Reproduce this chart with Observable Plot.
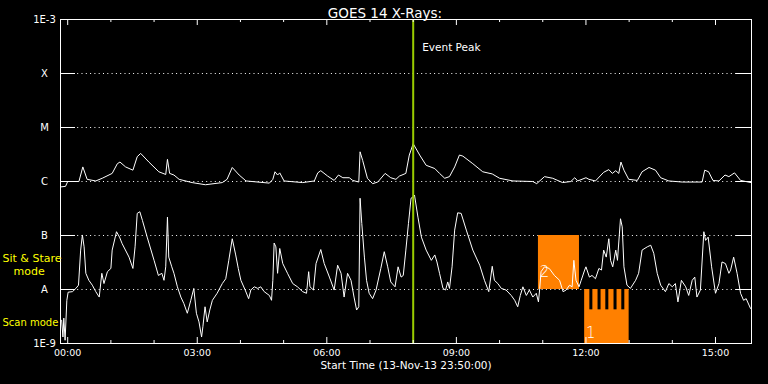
<!DOCTYPE html>
<html><head><meta charset="utf-8">
<script src="https://cdn.jsdelivr.net/npm/d3@7"></script>
<script src="https://cdn.jsdelivr.net/npm/@observablehq/plot@0.6"></script>
<style>html,body{margin:0;padding:0;background:#000;overflow:hidden}svg{display:block}</style>
</head><body><div id="chart"></div>
<script>
const title = "GOES 14 X-Rays:";
const xAxisLabel = "Start Time (13-Nov-13 23:50:00)";
// hours relative to 14-Nov-13 00:00
const timeDomain = [-10/60, 15 + 50/60];
const majorHours = [0, 3, 6, 9, 12, 15];
const majorLabels = ["00:00", "03:00", "06:00", "09:00", "12:00", "15:00"];
const minorHours = [1, 2, 4, 5, 7, 8, 10, 11, 13, 14];
const decades = [1e-9, 1e-8, 1e-7, 1e-6, 1e-5, 1e-4, 1e-3];
const decadeLabels = ["1E-9", "A", "B", "C", "M", "X", "1E-3"];
const gridLevels = [1e-8, 1e-7, 1e-6, 1e-5, 1e-4];
const eventPeakHour = 8;
const eventLabel = "Event Peak";

// [hour, log10 flux (W/m^2)] long channel 1-8 A
const longChannel = [[-0.16,-6.10],[-0.05,-6.09],[0.00,-6.00],[0.26,-6.00],[0.35,-5.73],[0.45,-5.96],[0.65,-5.99],[0.80,-5.94],[1.03,-5.85],[1.15,-5.67],[1.21,-5.64],[1.34,-5.73],[1.51,-5.79],[1.61,-5.54],[1.69,-5.48],[1.88,-5.64],[2.11,-5.82],[2.27,-5.87],[2.31,-5.59],[2.36,-5.85],[2.46,-5.88],[2.58,-5.96],[2.88,-6.02],[3.19,-6.06],[3.58,-6.02],[3.69,-5.96],[3.81,-5.74],[3.97,-5.88],[4.13,-5.99],[4.67,-6.03],[4.75,-5.96],[4.80,-5.82],[4.86,-5.88],[4.91,-5.84],[5.01,-5.99],[5.44,-6.02],[5.71,-5.99],[5.79,-5.84],[5.86,-5.80],[6.02,-5.90],[6.17,-5.98],[6.27,-5.88],[6.37,-5.93],[6.52,-5.93],[6.60,-5.98],[6.74,-6.01],[6.77,-5.45],[6.83,-5.61],[6.94,-5.94],[7.06,-6.04],[7.18,-6.01],[7.35,-5.85],[7.48,-5.93],[7.60,-5.96],[7.68,-5.90],[7.83,-5.85],[7.91,-5.51],[8.00,-5.30],[8.15,-5.51],[8.30,-5.70],[8.50,-5.76],[8.61,-5.85],[8.73,-5.94],[8.84,-5.91],[8.96,-5.73],[9.07,-5.51],[9.15,-5.53],[9.38,-5.67],[9.61,-5.82],[9.83,-5.86],[10.00,-5.94],[10.31,-5.99],[10.77,-6.00],[10.86,-6.04],[11.04,-5.91],[11.23,-5.94],[11.46,-6.02],[11.65,-6.00],[11.74,-5.93],[11.81,-5.99],[12.00,-5.93],[12.07,-5.96],[12.22,-5.99],[12.41,-5.83],[12.53,-5.78],[12.61,-5.85],[12.69,-5.80],[12.76,-5.85],[12.81,-5.64],[12.88,-5.79],[12.99,-5.96],[13.19,-5.98],[13.30,-5.82],[13.46,-5.74],[13.61,-5.79],[13.73,-5.93],[13.92,-5.99],[14.23,-6.01],[14.69,-6.01],[14.75,-5.79],[14.84,-5.82],[14.94,-5.98],[15.08,-5.99],[15.22,-5.88],[15.31,-5.91],[15.44,-5.84],[15.58,-5.98],[15.82,-6.02]];

// [hour, log10 flux] short channel 0.5-4 A
const shortChannel = [[-0.14,-8.57],[-0.11,-8.88],[-0.09,-8.53],[-0.06,-8.94],[-0.02,-8.20],[0.01,-8.05],[0.11,-8.04],[0.19,-7.98],[0.25,-7.92],[0.30,-7.27],[0.34,-6.99],[0.38,-7.21],[0.42,-7.70],[0.49,-7.83],[0.57,-7.92],[0.65,-8.04],[0.73,-8.14],[0.79,-7.70],[0.84,-7.89],[0.92,-7.67],[1.00,-7.61],[1.03,-7.27],[1.13,-6.93],[1.20,-7.03],[1.26,-7.15],[1.42,-7.40],[1.51,-7.61],[1.56,-7.21],[1.61,-6.59],[1.67,-6.56],[1.73,-6.72],[1.84,-7.03],[2.00,-7.46],[2.10,-7.74],[2.18,-7.70],[2.23,-7.83],[2.27,-7.58],[2.31,-6.66],[2.34,-7.40],[2.41,-7.58],[2.46,-7.70],[2.54,-7.95],[2.62,-8.14],[2.69,-8.26],[2.77,-8.44],[2.85,-8.20],[2.92,-7.98],[2.98,-8.44],[3.04,-8.60],[3.10,-8.88],[3.13,-8.69],[3.18,-8.32],[3.23,-8.60],[3.29,-8.38],[3.35,-8.20],[3.46,-8.07],[3.58,-7.89],[3.66,-7.80],[3.73,-7.46],[3.81,-7.06],[3.89,-7.36],[3.95,-7.61],[4.01,-7.83],[4.11,-8.01],[4.19,-8.17],[4.24,-8.01],[4.32,-7.95],[4.40,-7.98],[4.47,-7.95],[4.55,-8.04],[4.67,-8.11],[4.72,-8.20],[4.75,-7.83],[4.78,-7.14],[4.82,-7.21],[4.86,-7.70],[4.91,-7.24],[4.98,-7.52],[5.09,-7.70],[5.21,-7.89],[5.32,-7.95],[5.44,-8.04],[5.53,-8.07],[5.58,-7.67],[5.61,-7.95],[5.69,-8.01],[5.75,-7.52],[5.86,-7.26],[5.94,-7.52],[6.06,-7.77],[6.17,-8.01],[6.25,-7.55],[6.33,-7.70],[6.40,-8.14],[6.48,-7.70],[6.56,-7.83],[6.63,-8.14],[6.69,-8.38],[6.74,-8.32],[6.77,-6.31],[6.81,-6.78],[6.87,-7.40],[6.92,-7.83],[6.98,-8.07],[7.06,-8.17],[7.14,-8.01],[7.25,-7.61],[7.33,-7.30],[7.41,-7.58],[7.48,-7.86],[7.58,-7.95],[7.65,-7.58],[7.72,-7.77],[7.77,-7.74],[7.83,-7.27],[7.89,-6.78],[7.95,-6.31],[7.99,-6.29],[8.03,-6.25],[8.11,-6.66],[8.19,-7.03],[8.30,-7.27],[8.42,-7.46],[8.50,-7.36],[8.55,-7.49],[8.61,-7.70],[8.69,-7.98],[8.75,-8.01],[8.80,-7.86],[8.84,-7.98],[8.90,-7.58],[8.96,-6.90],[9.03,-6.58],[9.11,-6.59],[9.23,-6.90],[9.38,-7.27],[9.54,-7.55],[9.65,-7.83],[9.75,-8.04],[9.83,-7.57],[9.88,-7.83],[9.96,-7.89],[10.04,-7.98],[10.15,-8.01],[10.27,-8.11],[10.35,-8.20],[10.42,-8.32],[10.48,-8.11],[10.54,-7.95],[10.62,-8.11],[10.69,-8.01],[10.77,-8.14],[10.85,-8.07],[10.90,-8.23],[10.93,-7.98],[10.96,-7.67],[11.04,-7.58],[11.15,-7.61],[11.27,-7.74],[11.39,-7.83],[11.47,-8.04],[11.54,-8.01],[11.62,-7.92],[11.68,-7.95],[11.72,-7.46],[11.77,-7.83],[11.84,-7.95],[11.89,-7.83],[11.97,-7.64],[12.00,-7.58],[12.08,-7.77],[12.14,-7.74],[12.22,-7.80],[12.30,-7.61],[12.36,-7.64],[12.41,-7.27],[12.47,-7.40],[12.53,-7.06],[12.57,-7.46],[12.62,-7.58],[12.69,-7.27],[12.73,-7.46],[12.80,-6.69],[12.84,-6.84],[12.88,-7.58],[12.95,-7.92],[13.03,-7.98],[13.15,-7.83],[13.22,-7.70],[13.30,-7.27],[13.42,-7.21],[13.50,-7.18],[13.57,-7.33],[13.65,-7.70],[13.73,-7.92],[13.84,-8.04],[13.92,-7.89],[14.00,-7.95],[14.07,-7.89],[14.13,-8.23],[14.21,-7.83],[14.31,-7.95],[14.38,-8.11],[14.46,-7.83],[14.52,-7.77],[14.57,-8.14],[14.65,-8.01],[14.73,-6.93],[14.77,-7.09],[14.83,-7.03],[14.91,-7.58],[15.00,-8.07],[15.08,-7.89],[15.15,-7.49],[15.23,-7.52],[15.31,-7.70],[15.35,-7.64],[15.42,-7.40],[15.50,-7.70],[15.58,-8.07],[15.65,-8.20],[15.71,-8.17],[15.81,-8.35]];

// observing-mode windows
const sitStare = [{start: 10.90, end: 11.85, low: 1e-8, high: 1e-7, label: "2"}];
const scanMode = [{start: 11.97, end: 13.00, low: 1e-9, high: 1e-8, label: "1"}];
const scanGaps = [[12.09, 12.16], [12.28, 12.35], [12.46, 12.53], [12.65, 12.72], [12.83, 12.90]];
const scanGapLow = 4.2e-9;

const W = 768, H = 384, mL = 60, mR = 17, mT = 19, mB = 41;
const innerW = W - mL - mR, innerH = H - mT - mB;
const orange = "#ff8000";
const yellow = "#ffff00";

const chart = Plot.plot({
  width: W, height: H,
  marginLeft: mL, marginRight: mR, marginTop: mT, marginBottom: mB,
  style: {background: "#000", color: "#fff", fontFamily: "'DejaVu Sans', sans-serif", fontSize: "10px"},
  x: {domain: timeDomain, axis: null},
  y: {type: "log", domain: [1e-9, 1e-3], axis: null},
  marks: [
    Plot.ruleY(gridLevels, {y: d => d, stroke: "#fff", strokeWidth: 1, strokeDasharray: "1,3.3"}),
    Plot.rect(sitStare, {x1: "start", x2: "end", y1: "low", y2: "high", fill: orange}),
    Plot.rect(scanMode, {x1: "start", x2: "end", y1: "low", y2: "high", fill: orange}),
    Plot.rect(scanGaps, {x1: d => d[0], x2: d => d[1], y1: scanGapLow, y2: 1e-8, fill: "#000"}),
    Plot.text(sitStare, {x: "start", y: "low", text: "label", dx: 6, dy: -17, fill: "#fff", fontSize: 15, fontWeight: 300}),
    Plot.text(scanMode, {x: "start", y: "low", text: "label", dx: 6, dy: -10, fill: "#fff", fontSize: 15, fontWeight: 300}),
    Plot.line(longChannel, {x: d => d[0], y: d => 10 ** d[1], stroke: "#fff", strokeWidth: 1}),
    Plot.line(shortChannel, {x: d => d[0], y: d => 10 ** d[1], stroke: "#fff", strokeWidth: 1}),
    Plot.ruleX([eventPeakHour], {x: d => d, stroke: "#99cc00", strokeWidth: 2}),
    Plot.text([eventLabel], {x: eventPeakHour, frameAnchor: "top", dy: 24, dx: 9, textAnchor: "start", fill: "#fff", fontSize: 10.5}),
    // frame, inward ticks
    Plot.frame({stroke: "#fff", strokeWidth: 1}),
    Plot.tickY(decades, {y: d => d, stroke: "#fff", insetRight: innerW - 15}),
    Plot.tickY(decades, {y: d => d, stroke: "#fff", insetLeft: innerW - 15}),
    Plot.tickX(majorHours, {x: d => d, stroke: "#fff", insetBottom: innerH - 6}),
    Plot.tickX(majorHours, {x: d => d, stroke: "#fff", insetTop: innerH - 6}),
    Plot.tickX(minorHours, {x: d => d, stroke: "#fff", insetBottom: innerH - 3}),
    Plot.tickX(minorHours, {x: d => d, stroke: "#fff", insetTop: innerH - 3}),
    // axis labels
    Plot.text(decades, {y: d => d, text: (d, i) => decadeLabels[i], frameAnchor: "left", dx: -16, textAnchor: "middle", fill: "#fff", fontSize: 10}),
    Plot.text(majorHours, {x: d => d, text: (d, i) => majorLabels[i], frameAnchor: "bottom", dy: 12, fill: "#fff", fontSize: 9.5}),
    Plot.text([xAxisLabel], {frameAnchor: "bottom", dy: 25, fill: "#fff", fontSize: 10.5}),
    Plot.text([title], {frameAnchor: "top", dy: -11, dx: -21, fill: "#fff", fontSize: 13.5}),
    // mode labels
    Plot.text(["Sit & Stare"], {y: 10 ** -7.42, frameAnchor: "left", dx: -58, textAnchor: "start", fill: yellow, fontSize: 11}),
    Plot.text(["mode"], {y: 10 ** -7.66, frameAnchor: "left", dx: -47, textAnchor: "start", fill: yellow, fontSize: 11}),
    Plot.text(["Scan mode"], {y: 10 ** -8.62, frameAnchor: "left", dx: -58, textAnchor: "start", fill: yellow, fontSize: 10})
  ]
});
document.getElementById("chart").append(chart);
</script>
</body></html>
